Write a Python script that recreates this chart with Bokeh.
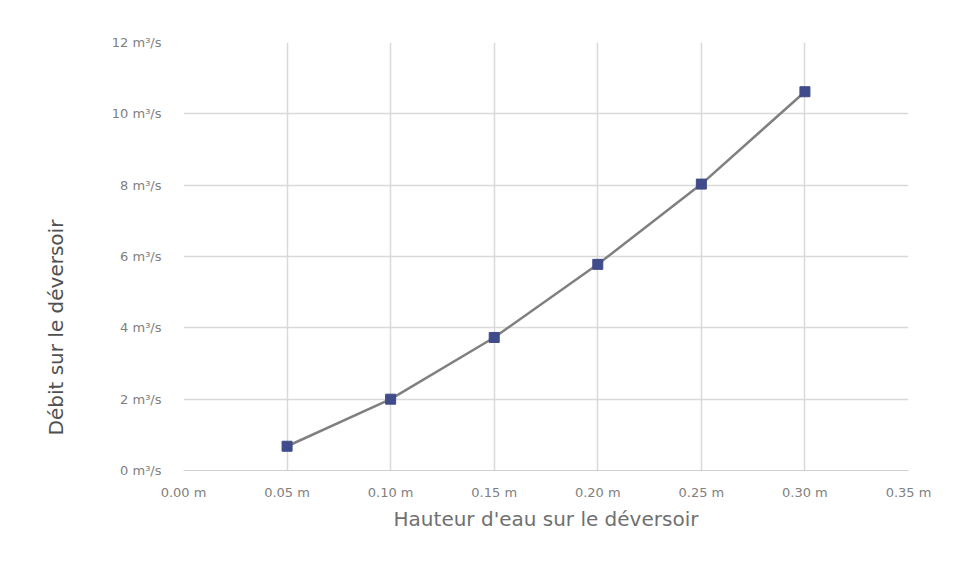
from bokeh.plotting import figure
from bokeh.models import FixedTicker, CustomJSTickFormatter, Range1d, Title
from bokeh.embed import file_html
from bokeh.resources import INLINE

hauteur = [0.05, 0.10, 0.15, 0.20, 0.25, 0.30]
debit = [0.68, 2.0, 3.73, 5.78, 8.03, 10.62]
x_ticks = [0.0, 0.05, 0.10, 0.15, 0.20, 0.25, 0.30, 0.35]
y_ticks = [0, 2, 4, 6, 8, 10, 12]
x_title = "Hauteur d'eau sur le déversoir"
y_title = "Débit sur le déversoir"

p = figure(width=957, height=584, output_backend="svg", toolbar_location=None,
           x_range=Range1d(0, 0.35), y_range=Range1d(0, 12),
           min_border_left=183, min_border_right=49, min_border_top=42, min_border_bottom=114)
p.outline_line_color = None
p.border_fill_color = "white"
p.background_fill_color = "white"

p.line(hauteur, debit, line_color="#808080", line_width=2.5)
p.scatter(hauteur, debit, marker="square", size=10, fill_color="#3f4b8a", line_color="#3f4b8a")

for ax in (p.xaxis[0], p.yaxis[0]):
    ax.major_tick_line_color = None
    ax.minor_tick_line_color = None
    ax.major_label_text_font = "DejaVu Sans"
    ax.major_label_text_font_size = "13px"
    ax.major_label_text_color = "#808080"
    ax.axis_label_text_font = "DejaVu Sans"
    ax.axis_label_text_font_size = "20px"
    ax.axis_label_text_font_style = "normal"
    ax.axis_label_text_color = "#707070"

p.xaxis.ticker = FixedTicker(ticks=x_ticks)
p.yaxis.ticker = FixedTicker(ticks=y_ticks)
p.xaxis.formatter = CustomJSTickFormatter(code="return tick.toFixed(2) + ' m';")
p.yaxis.formatter = CustomJSTickFormatter(code="return tick.toFixed(0) + ' m\u00b3/s';")
p.xaxis.axis_line_color = "#d0d0d0"
p.yaxis.axis_line_color = None
p.xaxis.major_label_standoff = 8
p.yaxis.major_label_standoff = 16
p.xaxis.axis_label = x_title
p.xaxis.axis_label_standoff = 4

# y-axis title, shifted down as in the reference
p.add_layout(Title(text=y_title, align="left", offset=35, standoff=81,
                   text_font="DejaVu Sans", text_font_size="20px",
                   text_font_style="normal", text_color="#505050"), "left")

p.xgrid.ticker = FixedTicker(ticks=x_ticks)
p.ygrid.ticker = FixedTicker(ticks=y_ticks)
p.xgrid.grid_line_color = "#d9d9d9"
p.ygrid.grid_line_color = "#d9d9d9"
p.xgrid.grid_line_width = 1.5
p.ygrid.grid_line_width = 1.5

open("out.html", "w").write(file_html(p, INLINE))
